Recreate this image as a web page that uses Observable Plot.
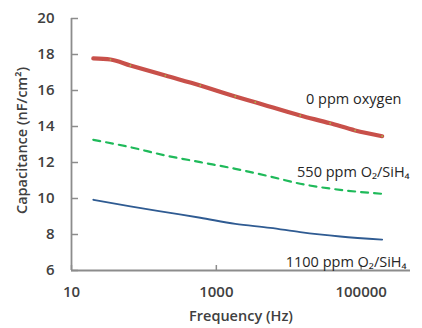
<!DOCTYPE html>
<html>
<head>
<meta charset="utf-8">
<script src="https://cdn.jsdelivr.net/npm/d3@7"></script>
<script src="https://cdn.jsdelivr.net/npm/@observablehq/plot@0.6"></script>
<style>
  html, body { margin: 0; padding: 0; background: #fff; }
  #chart { width: 422px; height: 328px; }
</style>
</head>
<body>
<div id="chart"></div>
<script>
// ---- data ----
const freq0 = [20, 34.5, 65, 198, 600, 1830, 3450, 14400, 37300, 82600, 195000];
const cap0  = [17.78, 17.72, 17.39, 16.83, 16.28, 15.67, 15.35, 14.61, 14.18, 13.78, 13.46];

const freq550 = [20, 65, 198, 600, 1830, 5560, 14400, 51300, 195000];
const cap550  = [13.26, 12.85, 12.39, 12.02, 11.65, 11.22, 10.82, 10.48, 10.26];

const freq1100 = [20, 65, 198, 600, 1830, 5560, 14400, 51300, 195000];
const cap1100  = [9.93, 9.56, 9.24, 8.93, 8.59, 8.37, 8.13, 7.89, 7.72];

const xTicks = [10, 1000, 100000];
const yTicks = [6, 8, 10, 12, 14, 16, 18, 20];

const labelText = ["0 ppm oxygen", "550 ppm O\u2082/SiH\u2084", "1100 ppm O\u2082/SiH\u2084"];
const labelFreq = [79000, 78000, 62000];
const labelCap  = [15.5, 11.44, 6.44];

const toRows = (f, c) => f.map((x, i) => ({f: x, c: c[i]}));
const s0 = toRows(freq0, cap0);
const s550 = toRows(freq550, cap550);
const s1100 = toRows(freq1100, cap1100);
const labels = labelText.map((t, i) => ({t, f: labelFreq[i], c: labelCap[i]}));

const font = "'Open Sans', 'DejaVu Sans', sans-serif";
const axisColor = "#8c8c8c";
const textColor = "#404040";

const chart = Plot.plot({
  width: 422,
  height: 328,
  marginLeft: 71,
  marginRight: 12,
  marginTop: 18,
  marginBottom: 58,
  style: {fontFamily: font, background: "#fff"},
  x: {type: "log", domain: [10, 480000]},
  y: {domain: [6, 20]},
  marks: [
    // tick labels
    Plot.axisY({ticks: yTicks, tickSize: 0, tickPadding: 17, label: null,
      fontSize: 15, fill: textColor, fontWeight: 600}),
    Plot.axisX({ticks: xTicks, tickSize: 0, tickPadding: 16, label: null,
      fontSize: 15, fill: textColor, fontWeight: 600, tickFormat: d => String(d)}),
    // inward tick marks
    Plot.axisY({ticks: yTicks, tickSize: 7, dx: 7, text: null, label: null, stroke: axisColor, strokeWidth: 1.5}),
    Plot.axisX({ticks: xTicks, tickSize: 5, dy: -5, text: null, label: null, stroke: axisColor, strokeWidth: 1.5}),
    // axis lines
    Plot.ruleX([10], {stroke: axisColor, strokeWidth: 1.8}),
    Plot.ruleY([6], {stroke: axisColor, strokeWidth: 1.8}),
    // series
    Plot.line(s1100, {x: "f", y: "c", stroke: "#2f5b92", strokeWidth: 1.8, curve: "monotone-x"}),
    Plot.line(s550, {x: "f", y: "c", stroke: "#1fba5a", strokeWidth: 2.2, strokeDasharray: "7,6", curve: "monotone-x"}),
    Plot.line(s0, {x: "f", y: "c", stroke: "#c8504a", strokeWidth: 4.2, curve: "monotone-x"}),
    Plot.dot(s0.slice(1), {x: "f", y: "c", r: 0.9, fill: "#a7b94a", stroke: null}),
    // series labels
    Plot.text(labels, {x: "f", y: "c", text: "t", fontSize: 14.5, fill: "#262626", fontWeight: 500}),
    // axis titles
    Plot.text(["Frequency (Hz)"], {frameAnchor: "bottom", dy: 50, fontSize: 14.5, fill: textColor, fontWeight: 600}),
    Plot.text(["Capacitance (nF/cm\u00b2)"], {frameAnchor: "left", textAnchor: "middle", dx: -49, dy: -4, rotate: -90, fontSize: 14.5, fill: textColor, fontWeight: 600})
  ]
});
document.getElementById("chart").appendChild(chart);
</script>
</body>
</html>
